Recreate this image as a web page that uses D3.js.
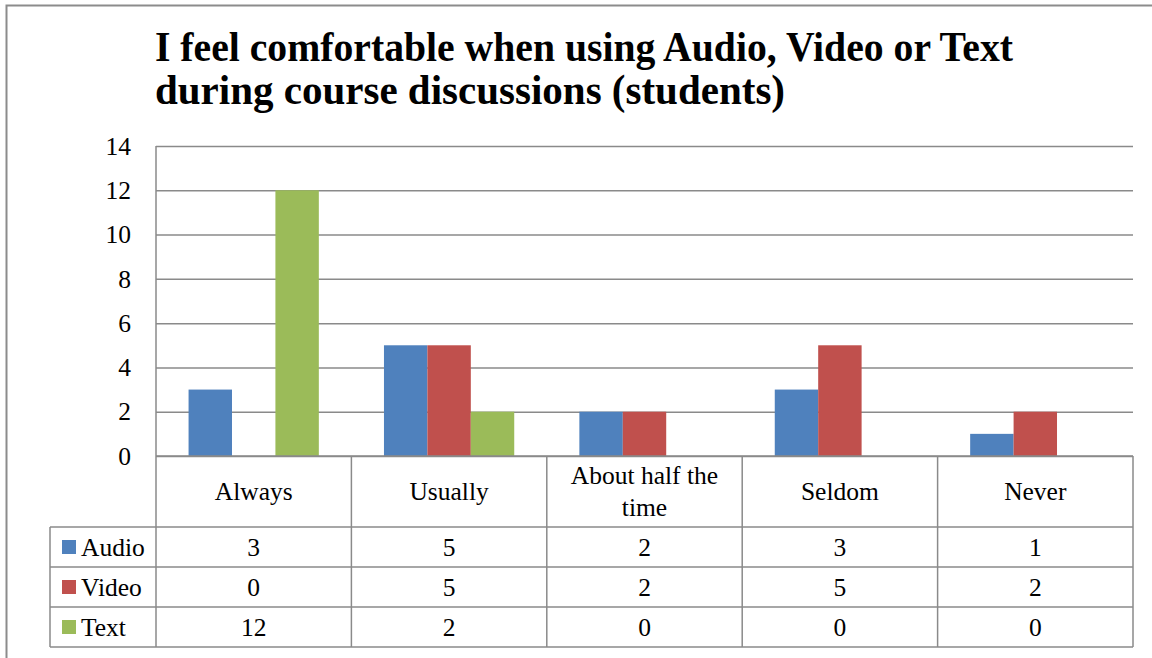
<!DOCTYPE html>
<html>
<head>
<meta charset="utf-8">
<script src="https://cdn.jsdelivr.net/npm/d3@7"></script>
<style>
  html, body { margin: 0; padding: 0; background: #fff; }
  svg { display: block; }
  text { font-family: "Liberation Serif", "DejaVu Serif", serif; fill: #000; }
</style>
</head>
<body>
<svg id="chart" width="1152" height="658"></svg>
<script>
// Survey responses (students)
const categories = ["Always", "Usually", "About half the time", "Seldom", "Never"];
const categoryLines = [["Always"], ["Usually"], ["About half the", "time"], ["Seldom"], ["Never"]];
const seriesNames = ["Audio", "Video", "Text"];
const audio = [3, 5, 2, 3, 1];
const video = [0, 5, 2, 5, 2];
const text = [12, 2, 0, 0, 0];
const seriesColors = ["#4F81BD", "#C0504D", "#9BBB59"];
const yTicks = [0, 2, 4, 6, 8, 10, 12, 14];
const titleLines = ["I feel comfortable when using Audio, Video or Text",
                    "during course discussions (students)"];

const series = [audio, video, text];

const svg = d3.select("#chart");
const gridColor = "#8a8a8a";
const labelSize = 25.5;

// frame around the chart
svg.append("path")
  .attr("d", "M6.5,670 L6.5,5.5 L1170,5.5")
  .attr("fill", "none").attr("stroke", "#8c8c8c").attr("stroke-width", 2);

// plot geometry
const plotLeft = 156, plotRight = 1133, plotTop = 146, plotBase = 456;
const tableLeft = 50;
const headerBottom = 527, rowH = 40;

const x0 = d3.scaleBand().domain(categories).range([plotLeft, plotRight]).paddingInner(0).paddingOuter(0);
const x1 = d3.scaleBand().domain(seriesNames).range([0, x0.bandwidth()]).paddingInner(0).paddingOuter(0.75);
const y = d3.scaleLinear().domain([0, 14]).range([plotBase, plotTop]);

// title
const title = svg.append("g");
const titleWidths = [858, 630];
const titleBase = [61, 104];
titleLines.forEach((t, i) => {
  title.append("text")
    .attr("x", 155).attr("y", titleBase[i])
    .attr("font-size", 42).attr("font-weight", "bold")
    .attr("textLength", titleWidths[i]).attr("lengthAdjust", "spacingAndGlyphs")
    .text(t);
});

// gridlines
const grid = d3.axisLeft(y).tickValues(yTicks).tickSize(-(plotRight - plotLeft)).tickFormat("");
svg.append("g").attr("transform", `translate(${plotLeft},0)`).call(grid)
  .call(g => g.select(".domain").remove())
  .call(g => g.selectAll(".tick line").attr("stroke", gridColor).attr("stroke-width", 1.5));

// y tick labels
const yAxis = d3.axisLeft(y).tickValues(yTicks).tickSize(0).tickPadding(25);
svg.append("g").attr("transform", `translate(${plotLeft},0)`).call(yAxis)
  .call(g => g.select(".domain").remove())
  .call(g => g.selectAll(".tick text")
    .attr("font-family", "Liberation Serif, serif").attr("font-size", labelSize).attr("fill", "#000"));

// bars
const groups = svg.append("g").selectAll("g")
  .data(categories).join("g")
  .attr("transform", d => `translate(${x0(d)},0)`);
groups.selectAll("rect")
  .data((c, ci) => seriesNames.map((s, si) => ({ s, si, v: series[si][ci] })))
  .join("rect")
  .attr("x", d => x1(d.s))
  .attr("width", x1.bandwidth())
  .attr("y", d => y(d.v))
  .attr("height", d => plotBase - y(d.v))
  .attr("fill", d => seriesColors[d.si]);

// y axis line
svg.append("line").attr("x1", plotLeft).attr("x2", plotLeft).attr("y1", plotTop).attr("y2", plotBase)
  .attr("stroke", gridColor).attr("stroke-width", 1.5);

// data table
const table = svg.append("g");
const tableBottom = headerBottom + rowH * seriesNames.length;
const lineStyle = sel => sel.attr("stroke", gridColor).attr("stroke-width", 1.5);

// horizontal lines
table.append("line").attr("x1", plotLeft).attr("x2", plotRight).attr("y1", plotBase).attr("y2", plotBase).call(lineStyle);
d3.range(seriesNames.length + 1).forEach(i => {
  const yy = headerBottom + i * rowH;
  table.append("line").attr("x1", tableLeft).attr("x2", plotRight).attr("y1", yy).attr("y2", yy).call(lineStyle);
});
// vertical lines
table.append("line").attr("x1", tableLeft).attr("x2", tableLeft).attr("y1", headerBottom).attr("y2", tableBottom).call(lineStyle);
categories.forEach(c => {
  table.append("line").attr("x1", x0(c)).attr("x2", x0(c)).attr("y1", plotBase).attr("y2", tableBottom).call(lineStyle);
});
table.append("line").attr("x1", plotRight).attr("x2", plotRight).attr("y1", plotBase).attr("y2", tableBottom).call(lineStyle);

// category header
categories.forEach((c, i) => {
  const lines = categoryLines[i];
  const cx = x0(c) + x0.bandwidth() / 2;
  const cy = (plotBase + headerBottom) / 2;
  lines.forEach((ln, j) => {
    table.append("text")
      .attr("x", cx).attr("y", cy + (j - (lines.length - 1) / 2) * 32)
      .attr("dy", "0.35em").attr("text-anchor", "middle").attr("font-size", labelSize)
      .text(ln);
  });
});

// legend + values
seriesNames.forEach((s, si) => {
  const cy = headerBottom + si * rowH + rowH / 2;
  table.append("rect").attr("x", 62).attr("y", cy - 7).attr("width", 14).attr("height", 14)
    .attr("fill", seriesColors[si]);
  table.append("text").attr("x", 81).attr("y", cy).attr("dy", "0.35em").attr("font-size", labelSize).text(s);
  categories.forEach((c, ci) => {
    table.append("text")
      .attr("x", x0(c) + x0.bandwidth() / 2).attr("y", cy).attr("dy", "0.35em")
      .attr("text-anchor", "middle").attr("font-size", labelSize)
      .text(series[si][ci]);
  });
});
</script>
</body>
</html>
